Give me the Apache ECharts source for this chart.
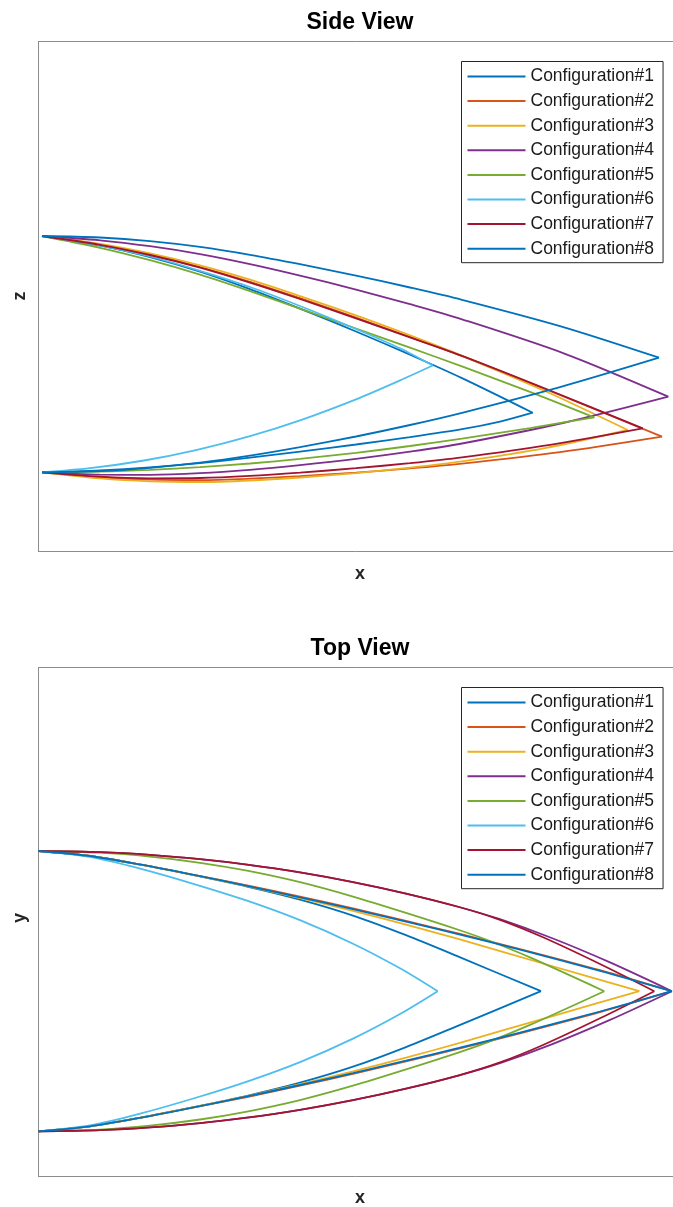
<!DOCTYPE html>
<html>
<head>
<meta charset="utf-8">
<script src="https://cdn.jsdelivr.net/npm/echarts@6/dist/echarts.min.js"></script>
<style>
html,body{margin:0;padding:0;background:#fff;}
#chart{width:673px;height:1207px;}
</style>
</head>
<body>
<div id="chart"></div>
<script>
// ---------- data ----------
const configNames = ['Configuration#1','Configuration#2','Configuration#3','Configuration#4',
                     'Configuration#5','Configuration#6','Configuration#7','Configuration#8'];

// Side view (x, z): upper edge root -> tip, lower edge tip -> root
const sideUpper1 = [[0.035,3.155],[0.615,3.059],[1.115,2.944],[1.615,2.799],[2.115,2.624],[2.615,2.429],[3.175,2.2],[3.715,1.968],[4.235,1.734],[4.942,1.388]];
const sideLower1 = [[4.942,1.388],[4.615,1.299],[4.235,1.223],[3.715,1.144],[3.175,1.07],[2.615,0.999],[2.115,0.938],[1.615,0.884],[1.115,0.842],[0.615,0.812],[0.035,0.792]];
const sideUpper2 = [[0.035,3.155],[0.615,3.069],[1.115,2.969],[1.615,2.845],[2.115,2.697],[2.615,2.533],[3.175,2.339],[3.715,2.145],[4.235,1.955],[5.215,1.565],[6.235,1.148]];
const sideLower2 = [[6.235,1.148],[5.215,0.993],[4.235,0.879],[3.715,0.831],[3.175,0.789],[2.615,0.753],[2.115,0.728],[1.615,0.714],[1.115,0.718],[0.615,0.741],[0.035,0.792]];
const sideUpper3 = [[0.035,3.155],[0.615,3.075],[1.115,2.98],[1.615,2.861],[2.115,2.718],[2.615,2.554],[3.175,2.361],[3.715,2.161],[4.235,1.957],[5.065,1.605],[5.892,1.215]];
const sideLower3 = [[5.892,1.215],[5.065,1.034],[4.235,0.901],[3.715,0.838],[3.175,0.784],[2.615,0.74],[2.115,0.71],[1.615,0.695],[1.115,0.702],[0.615,0.731],[0.035,0.792]];
const sideUpper4 = [[0.035,3.155],[0.615,3.112],[1.115,3.053],[1.615,2.974],[2.115,2.874],[2.615,2.759],[3.175,2.619],[3.715,2.473],[4.235,2.322],[5.265,1.977],[6.298,1.548]];
const sideLower4 = [[6.298,1.548],[5.265,1.29],[4.235,1.08],[3.715,0.998],[3.175,0.926],[2.615,0.864],[2.115,0.817],[1.615,0.783],[1.115,0.767],[0.615,0.769],[0.035,0.792]];
const sideUpper5 = [[0.035,3.155],[0.615,3.037],[1.115,2.913],[1.615,2.769],[2.115,2.604],[2.615,2.428],[3.175,2.23],[3.715,2.038],[4.235,1.851],[4.915,1.596],[5.558,1.342]];
const sideLower5 = [[5.558,1.342],[4.915,1.234],[4.235,1.129],[3.715,1.055],[3.175,0.987],[2.615,0.926],[2.115,0.88],[1.615,0.843],[1.115,0.816],[0.615,0.799],[0.035,0.792]];
const sideUpper6 = [[0.035,3.155],[0.615,3.062],[1.115,2.95],[1.615,2.807],[2.115,2.645],[2.615,2.455],[3.175,2.225],[3.615,2.032],[3.942,1.86]];
const sideLower6 = [[3.942,1.86],[3.615,1.711],[3.175,1.522],[2.615,1.312],[2.115,1.154],[1.575,1.014],[1.055,0.91],[0.515,0.833],[0.035,0.792]];
const sideUpper7 = [[0.035,3.155],[0.615,3.067],[1.115,2.965],[1.615,2.839],[2.115,2.689],[2.615,2.525],[3.175,2.331],[3.715,2.141],[4.235,1.957],[5.115,1.61],[6.042,1.232]];
const sideLower7 = [[6.042,1.232],[5.115,1.067],[4.235,0.942],[3.715,0.884],[3.175,0.833],[2.615,0.789],[2.115,0.756],[1.615,0.735],[1.115,0.732],[0.615,0.748],[0.035,0.792]];
const sideUpper8 = [[0.035,3.155],[0.615,3.14],[1.115,3.104],[1.615,3.046],[2.115,2.967],[2.615,2.873],[3.175,2.759],[3.715,2.64],[4.235,2.517],[5.215,2.254],[6.205,1.938]];
const sideLower8 = [[6.205,1.938],[5.215,1.644],[4.235,1.387],[3.715,1.265],[3.175,1.15],[2.615,1.043],[2.115,0.958],[1.615,0.888],[1.115,0.837],[0.615,0.805],[0.035,0.792]];

// Top view (x, y): upper edge root -> tip, lower edge tip -> root
const topUpper1 = [[0,3.255],[0.515,3.205],[1.025,3.118],[1.565,3.011],[2.085,2.9],[2.615,2.769],[3.145,2.609],[3.675,2.413],[4.205,2.196],[5.025,1.853]];
const topLower1 = [[5.025,1.853],[4.205,1.511],[3.675,1.294],[3.145,1.098],[2.615,0.938],[2.085,0.807],[1.565,0.696],[1.025,0.589],[0.515,0.502],[0,0.452]];
const topUpper2 = [[0,3.255],[0.515,3.205],[1.025,3.118],[1.565,3.013],[2.085,2.912],[2.615,2.799],[3.145,2.68],[3.675,2.556],[4.205,2.428],[4.815,2.275],[5.615,2.063],[6.332,1.853]];
const topLower2 = [[6.332,1.853],[5.615,1.644],[4.815,1.432],[4.205,1.279],[3.675,1.151],[3.145,1.027],[2.615,0.908],[2.085,0.795],[1.565,0.694],[1.025,0.589],[0.515,0.502],[0,0.452]];
const topUpper3 = [[0,3.255],[0.515,3.205],[1.025,3.118],[1.565,3.012],[2.085,2.903],[2.615,2.784],[3.145,2.656],[3.675,2.519],[4.205,2.373],[5.115,2.11],[6.008,1.853]];
const topLower3 = [[6.008,1.853],[5.115,1.597],[4.205,1.334],[3.675,1.188],[3.145,1.051],[2.615,0.923],[2.085,0.804],[1.565,0.695],[1.025,0.589],[0.515,0.502],[0,0.452]];
const topUpper4 = [[0,3.255],[0.615,3.243],[1.115,3.216],[1.615,3.173],[2.085,3.119],[2.615,3.041],[3.145,2.944],[3.675,2.829],[4.205,2.695],[4.615,2.573],[5.145,2.38],[5.715,2.141],[6.335,1.853]];
const topLower4 = [[6.335,1.853],[5.715,1.566],[5.145,1.327],[4.615,1.134],[4.205,1.012],[3.675,0.878],[3.145,0.763],[2.615,0.666],[2.085,0.588],[1.615,0.534],[1.115,0.491],[0.615,0.464],[0,0.452]];
const topUpper5 = [[0,3.255],[0.615,3.238],[1.115,3.199],[1.615,3.137],[2.085,3.058],[2.615,2.943],[3.145,2.799],[3.675,2.636],[4.205,2.465],[4.515,2.355],[4.915,2.191],[5.658,1.853]];
const topLower5 = [[5.658,1.853],[4.915,1.516],[4.515,1.352],[4.205,1.242],[3.675,1.071],[3.145,0.908],[2.615,0.764],[2.085,0.649],[1.615,0.57],[1.115,0.508],[0.615,0.469],[0,0.452]];
const topUpper6 = [[0,3.255],[0.515,3.196],[1.025,3.076],[1.565,2.922],[2.085,2.758],[2.615,2.563],[3.145,2.328],[3.615,2.082],[3.992,1.853]];
const topLower6 = [[3.992,1.853],[3.615,1.625],[3.145,1.379],[2.615,1.144],[2.085,0.949],[1.565,0.785],[1.025,0.631],[0.515,0.511],[0,0.452]];
const topUpper7 = [[0,3.255],[0.615,3.243],[1.115,3.216],[1.615,3.173],[2.085,3.119],[2.615,3.041],[3.145,2.944],[3.675,2.829],[4.205,2.695],[4.615,2.566],[5.045,2.392],[5.615,2.125],[6.158,1.853]];
const topLower7 = [[6.158,1.853],[5.615,1.582],[5.045,1.315],[4.615,1.141],[4.205,1.012],[3.675,0.878],[3.145,0.763],[2.615,0.666],[2.085,0.588],[1.615,0.534],[1.115,0.491],[0.615,0.464],[0,0.452]];
const topUpper8 = [[0,3.255],[0.515,3.205],[1.025,3.118],[1.565,3.013],[2.085,2.906],[2.615,2.792],[3.145,2.673],[3.675,2.549],[4.205,2.421],[4.815,2.268],[5.615,2.057],[6.332,1.853]];
const topLower8 = [[6.332,1.853],[5.615,1.65],[4.815,1.439],[4.205,1.286],[3.675,1.158],[3.145,1.034],[2.615,0.915],[2.085,0.801],[1.565,0.694],[1.025,0.589],[0.515,0.502],[0,0.452]];

// ---------- styling ----------
const colors = ['#0072BD','#D95319','#EDB120','#7E2F8E','#77AC30','#4DBEEE','#A2142F','#0072BD'];
const sideEdges = [[sideUpper1,sideLower1],[sideUpper2,sideLower2],[sideUpper3,sideLower3],[sideUpper4,sideLower4],
                   [sideUpper5,sideLower5],[sideUpper6,sideLower6],[sideUpper7,sideLower7],[sideUpper8,sideLower8]];
const topEdges  = [[topUpper1,topLower1],[topUpper2,topLower2],[topUpper3,topLower3],[topUpper4,topLower4],
                   [topUpper5,topLower5],[topUpper6,topLower6],[topUpper7,topLower7],[topUpper8,topLower8]];

const FONT = '"Liberation Sans", Arial, sans-serif';
const series = [];
function addView(edges, axisIdx) {
  edges.forEach((pair, i) => {
    pair.forEach(edge => {
      series.push({
        type: 'line', name: configNames[i],
        xAxisIndex: axisIdx, yAxisIndex: axisIdx,
        data: edge, symbol: 'none', showSymbol: false,
        smooth: 0.3, silent: true,
        lineStyle: { color: colors[i], width: 1.8 },
        itemStyle: { color: colors[i] },
        clip: false
      });
    });
  });
}
addView(sideEdges, 0);
addView(topEdges, 1);

function legendAt(top) {
  return {
    data: configNames, orient: 'vertical', left: 461.5, top: top,
    backgroundColor: '#fff', borderColor: '#262626', borderWidth: 1,
    padding: [5, 9, 4, 6], itemGap: 4.6, itemWidth: 58, itemHeight: 2,
    icon: 'rect', selectedMode: false,
    textStyle: { fontFamily: FONT, fontSize: 17.5, color: '#1a1a1a', lineHeight: 20 }
  };
}

const frameLine = { show: true, onZero: false, lineStyle: { color: '#8c8c8c', width: 1 } };
function frameAxis(extra) {
  return Object.assign({
    type: 'value', axisLine: frameLine, axisTick: { show: false },
    axisLabel: { show: false }, splitLine: { show: false }
  }, extra);
}

const option = {
  animation: false,
  backgroundColor: '#fff',
  grid: [
    { left: 38.5, top: 41.5, right: 0, height: 510 },
    { left: 38.5, top: 667.5, right: 0, height: 509 }
  ],
  xAxis: [
    frameAxis({ gridIndex: 0, position: 'bottom', min: 0, max: 6.345 }),
    frameAxis({ gridIndex: 1, position: 'bottom', min: 0, max: 6.345 }),
    frameAxis({ gridIndex: 0, position: 'top', min: 0, max: 6.345 }),
    frameAxis({ gridIndex: 1, position: 'top', min: 0, max: 6.345 })
  ],
  yAxis: [
    frameAxis({ gridIndex: 0, position: 'left', min: 0, max: 5.1 }),
    frameAxis({ gridIndex: 1, position: 'left', min: 0, max: 5.09 })
  ],
  legend: [legendAt(61.5), legendAt(687.5)],
  series: series,
  graphic: [
    { type: 'text', x: 360, y: 22.5, style: { text: 'Side View', font: 'bold 23px ' + FONT, fill: '#000', align: 'center', verticalAlign: 'middle' } },
    { type: 'text', x: 360, y: 648.5, style: { text: 'Top View', font: 'bold 23px ' + FONT, fill: '#000', align: 'center', verticalAlign: 'middle' } },
    { type: 'text', x: 360, y: 574, style: { text: 'x', font: 'bold 18px ' + FONT, fill: '#262626', align: 'center', verticalAlign: 'middle' } },
    { type: 'text', x: 360, y: 1198, style: { text: 'x', font: 'bold 18px ' + FONT, fill: '#262626', align: 'center', verticalAlign: 'middle' } },
    { type: 'text', x: 20, y: 296, rotation: Math.PI / 2, style: { text: 'z', font: 'bold 18px ' + FONT, fill: '#262626', align: 'center', verticalAlign: 'middle' } },
    { type: 'text', x: 20, y: 918, rotation: Math.PI / 2, style: { text: 'y', font: 'bold 18px ' + FONT, fill: '#262626', align: 'center', verticalAlign: 'middle' } }
  ]
};

const chart = echarts.init(document.getElementById('chart'), null, { renderer: 'canvas' });
chart.setOption(option);
</script>
</body>
</html>
